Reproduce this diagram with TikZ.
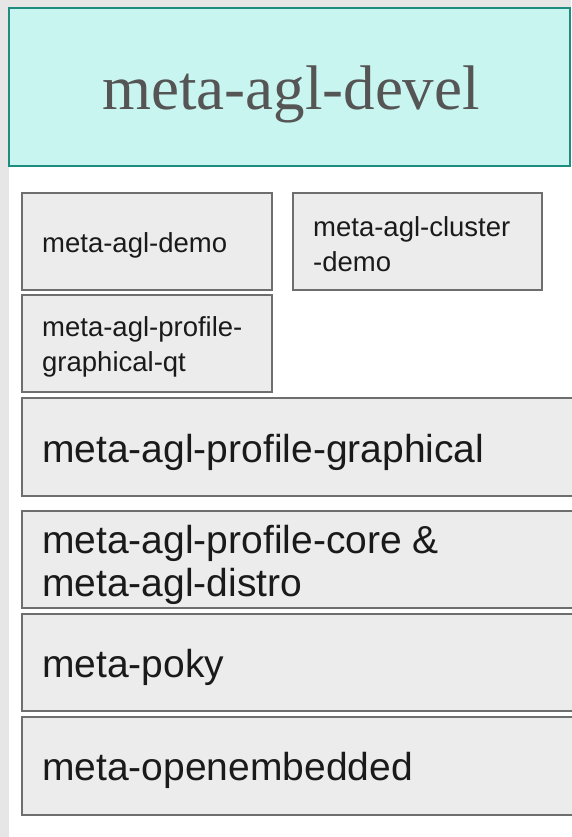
\documentclass[tikz,border=0pt]{standalone}
\usepackage{fontspec}
\setmainfont{Liberation Sans}
\newfontfamily\titlefont{Liberation Serif}
\definecolor{strip}{HTML}{E6E6E6}
\definecolor{tealfill}{HTML}{C9F5F0}
\definecolor{tealline}{HTML}{1E8C7E}
\definecolor{boxfill}{HTML}{ECECEC}
\definecolor{boxline}{HTML}{6E6E6E}
\definecolor{titletext}{HTML}{555555}
\definecolor{boxtext}{HTML}{1A1A1A}
\tikzset{
  layerbox/.style={draw=boxline, fill=boxfill, line width=1.5pt},
  smalltext/.style={anchor=base west, inner sep=0pt, text=boxtext, font=\fontsize{27.5}{35}\selectfont, align=left},
  bigtext/.style={anchor=base west, inner sep=0pt, text=boxtext, font=\fontsize{39}{43}\selectfont, align=left},
}
\begin{document}
\begin{tikzpicture}[x=1pt,y=-1pt]
\useasboundingbox (0,0) rectangle (571,837);
\fill[white] (0,0) rectangle (571,837);
\fill[strip] (0,0) rectangle (571,7);
\fill[strip] (0,0) rectangle (9,837);
% title box
\draw[fill=tealfill, draw=tealline, line width=2pt] (9,8) rectangle (570,166);
\node[anchor=base, inner sep=0pt, text=titletext, font=\titlefont\fontsize{63}{70}\selectfont] (title) at (291,110) {meta-agl-devel};
% small boxes
\draw[layerbox] (22,193) rectangle (272,290);
\node[smalltext] (demo) at (42,252) {meta-agl-demo};
\draw[layerbox] (293,193) rectangle (542,290);
\node[smalltext] (cluster) at (313,271) {meta-agl-cluster\\-demo};
\draw[layerbox] (22,295) rectangle (272,392);
\node[smalltext] (qt) at (42,371) {meta-agl-profile-\\graphical-qt};
% big boxes
\draw[layerbox] (22,398) rectangle (600,496);
\node[bigtext] (graphical) at (42,462) {meta-agl-profile-graphical};
\draw[layerbox] (22,511) rectangle (600,608);
\node[bigtext] (core) at (42,596) {meta-agl-profile-core \&\\meta-agl-distro};
\draw[layerbox] (22,614) rectangle (600,711);
\node[bigtext] (poky) at (42,677) {meta-poky};
\draw[layerbox] (22,717) rectangle (600,815);
\node[bigtext] (oe) at (42,780) {meta-openembedded};
\end{tikzpicture}
\end{document}
